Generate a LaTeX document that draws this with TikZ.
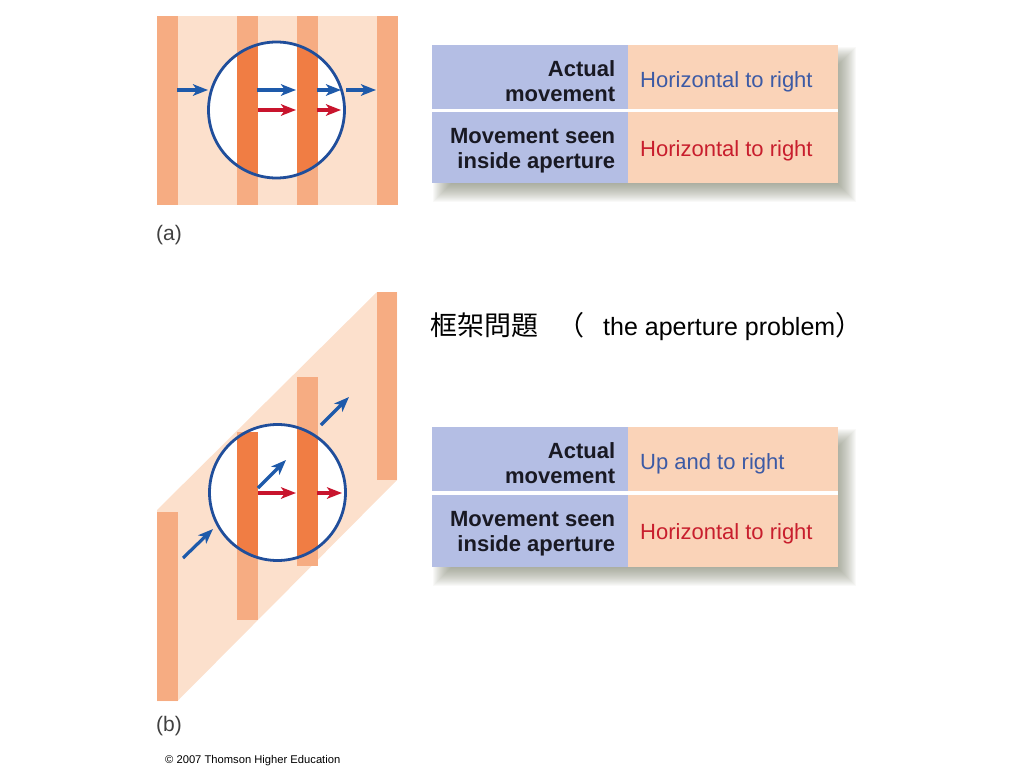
\documentclass[tikz,border=0pt]{standalone}
\usepackage{fontspec}
\setmainfont{Liberation Sans}
\newfontfamily\cjk{Noto Sans CJK TC}
\usetikzlibrary{arrows.meta}
\definecolor{peach}{RGB}{252,224,204}
\definecolor{stripe}{RGB}{246,172,130}
\definecolor{darkstripe}{RGB}{240,125,68}
\definecolor{apblue}{RGB}{32,78,155}
\definecolor{arrblue}{RGB}{30,90,170}
\definecolor{arrred}{RGB}{200,20,45}
\definecolor{cellblue}{RGB}{180,190,228}
\definecolor{cellorange}{RGB}{250,211,184}
\definecolor{txtblue}{RGB}{60,90,165}
\definecolor{txtred}{RGB}{200,30,45}
\definecolor{shadowc}{RGB}{100,105,80}
\definecolor{txtdark}{RGB}{25,25,35}
\begin{document}
\begin{tikzpicture}[x=1pt,y=-1pt,
  marrow/.style={line width=3.2pt, line cap=butt, -{Stealth[length=15pt,width=11.5pt,inset=4pt]}},
  bluearrow/.style={marrow, arrblue},
  redarrow/.style={marrow, arrred},
  aperture/.style={apblue, line width=2.8pt},
  lfill/.style={fill=cellblue, anchor=north west, inner sep=0pt, minimum width=196pt},
  rfill/.style={fill=cellorange, anchor=north west, inner sep=0pt, minimum width=210pt},
  ltext/.style={anchor=east, inner sep=0pt, align=right, text=txtdark,
    font=\bfseries\fontsize{22}{25}\selectfont},
  rtext/.style={anchor=west, inner sep=0pt, align=left, font=\fontsize{22}{25}\selectfont},
  plabel/.style={anchor=base west, inner sep=0pt, text=black!75, font=\fontsize{21}{25}\selectfont}
]
\useasboundingbox (0,0) rectangle (1024,768);

% ---------- panel (a) ----------
\fill[peach] (157,16) rectangle (397,205);
\foreach \x in {157,237,297,377} \fill[stripe] (\x,16) rectangle (\x+20.5,205);
\coordinate (ca) at (276.5,110);
\fill[white] (ca) circle (68pt);
\begin{scope}
  \clip (ca) circle (68pt);
  \foreach \x in {237,297} \fill[darkstripe] (\x,16) rectangle (\x+20.5,205);
\end{scope}
\draw[aperture] (ca) circle (68pt);
\coordinate (a1s) at (177,90);  \coordinate (a1e) at (208,90);
\coordinate (a2s) at (257,90);  \coordinate (a2e) at (296,90);
\coordinate (a3s) at (317,90);  \coordinate (a3e) at (341,90);
\coordinate (a4s) at (346,90);  \coordinate (a4e) at (376,90);
\coordinate (r1s) at (258,110); \coordinate (r1e) at (296,110);
\coordinate (r2s) at (317,110); \coordinate (r2e) at (341,110);
\draw[bluearrow] (a1s) -- (a1e);
\draw[bluearrow] (a2s) -- (a2e);
\draw[bluearrow] (a3s) -- (a3e);
\draw[bluearrow] (a4s) -- (a4e);
\draw[redarrow] (r1s) -- (r1e);
\draw[redarrow] (r2s) -- (r2e);

% ---------- panel (b) ----------
\fill[peach] (157,701) -- (157,510) -- (377,292) -- (397,292) -- (397,480) -- (177.5,701) -- cycle;
\fill[stripe] (157,512) rectangle (177.5,701);
\fill[stripe] (237,432) rectangle (258,620);
\fill[stripe] (297,377) rectangle (317.5,566);
\fill[stripe] (377,292) rectangle (397,480);
\coordinate (cb) at (277.5,492.5);
\fill[white] (cb) circle (68pt);
\begin{scope}
  \clip (cb) circle (68pt);
  \fill[darkstripe] (237,432) rectangle (258,620);
  \fill[darkstripe] (297,377) rectangle (317.5,566);
\end{scope}
\draw[aperture] (cb) circle (68pt);
\coordinate (b1s) at (183,558); \coordinate (b1e) at (213,529);
\coordinate (b2s) at (258,488); \coordinate (b2e) at (286,460);
\coordinate (b3s) at (321,425); \coordinate (b3e) at (349,397);
\coordinate (q1s) at (258,493); \coordinate (q1e) at (296,493);
\coordinate (q2s) at (317,493); \coordinate (q2e) at (342,493);
\draw[bluearrow] (b1s) -- (b1e);
\draw[bluearrow] (b2s) -- (b2e);
\draw[bluearrow] (b3s) -- (b3e);
\draw[redarrow] (q1s) -- (q1e);
\draw[redarrow] (q2s) -- (q2e);

% ---------- table shadows ----------
\foreach \s in {-9,...,9} {
  \fill[shadowc, opacity=0.04] (442+\s,56+\s) rectangle (847-\s,193-\s);
  \fill[shadowc, opacity=0.04] (442+\s,438+\s) rectangle (847-\s,577-\s);
}
\fill[white] (432,45) rectangle (838,183);
\fill[white] (432,427) rectangle (838,567);

% ---------- table (a) ----------
\node[lfill, minimum height=64pt] (ta1l) at (432,45) {};
\node[rfill, minimum height=64pt] (ta1r) at (628,45) {};
\node[lfill, minimum height=71pt] (ta2l) at (432,112) {};
\node[rfill, minimum height=71pt] (ta2r) at (628,112) {};
\node[ltext] (xa1l) at ([xshift=-13pt,yshift=-4pt]ta1l.east) {Actual\\movement};
\node[rtext, text=txtblue] (xa1r) at ([xshift=12pt,yshift=-5pt]ta1r.west) {Horizontal to right};
\node[ltext] (xa2l) at ([xshift=-13pt,yshift=-3pt]ta2l.east) {Movement seen\\inside aperture};
\node[rtext, text=txtred] (xa2r) at ([xshift=12pt,yshift=-3pt]ta2r.west) {Horizontal to right};

% ---------- table (b) ----------
\node[lfill, minimum height=64pt] (tb1l) at (432,427) {};
\node[rfill, minimum height=64pt] (tb1r) at (628,427) {};
\node[lfill, minimum height=72pt] (tb2l) at (432,495) {};
\node[rfill, minimum height=72pt] (tb2r) at (628,495) {};
\node[ltext] (xb1l) at ([xshift=-13pt,yshift=-4pt]tb1l.east) {Actual\\movement};
\node[rtext, text=txtblue] (xb1r) at ([xshift=12pt,yshift=-5pt]tb1r.west) {Up and to right};
\node[ltext] (xb2l) at ([xshift=-13pt,yshift=-3pt]tb2l.east) {Movement seen\\inside aperture};
\node[rtext, text=txtred] (xb2r) at ([xshift=12pt,yshift=-3pt]tb2r.west) {Horizontal to right};

% ---------- labels ----------
\node[anchor=base west, inner sep=0pt, font=\fontsize{25}{30}\selectfont] (title) at (430,335)
  {{\cjk\fontsize{27}{30}\selectfont 框架問題\hspace{19pt}（}\hspace{19pt}the aperture problem{\cjk\fontsize{27}{30}\selectfont ）}};
\node[plabel] (la) at (156,240) {(a)};
\node[plabel] (lb) at (156,731) {(b)};
\node[anchor=base west, inner sep=0pt, font=\fontsize{11.2}{13}\selectfont] (copy) at (165,763)
  {© 2007 Thomson Higher Education};
\end{tikzpicture}
\end{document}
